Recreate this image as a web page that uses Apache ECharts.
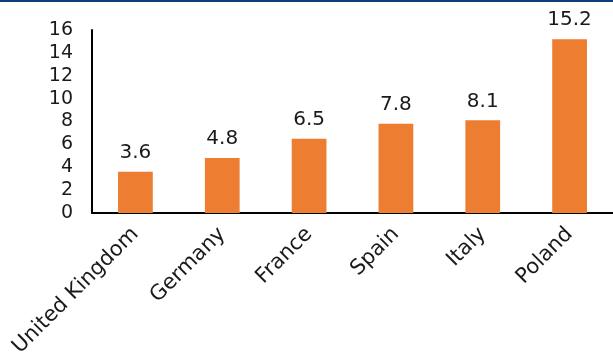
<!DOCTYPE html>
<html>
<head>
<meta charset="utf-8">
<script src="https://cdn.jsdelivr.net/npm/echarts@6/dist/echarts.min.js"></script>
<style>
  html, body { margin: 0; padding: 0; background: #fff; }
  #chart { width: 613px; height: 357px; }
</style>
</head>
<body>
<div id="chart"></div>
<script>
// Countries and their values
const countries = ['United Kingdom', 'Germany', 'France', 'Spain', 'Italy', 'Poland'];
const values = [3.6, 4.8, 6.5, 7.8, 8.1, 15.2];
const yTicks = [0, 2, 4, 6, 8, 10, 12, 14, 16];

const font = '"DejaVu Sans", sans-serif';
const chart = echarts.init(document.getElementById('chart'));

chart.setOption({
  animation: false,
  graphic: [{
    type: 'rect',
    shape: { x: 0, y: 0, width: 613, height: 2 },
    style: { fill: '#0b3f7c' },
    silent: true
  }],
  grid: { left: 92, right: 0, top: 30, bottom: 144, containLabel: false, outerBoundsMode: 'none' },
  xAxis: {
    type: 'category',
    data: countries,
    axisLine: { lineStyle: { color: '#000', width: 2 } },
    axisTick: { show: false },
    axisLabel: {
      rotate: 45,
      margin: 18,
      interval: 0,
      fontFamily: font,
      fontSize: 21,
      color: '#1a1a1a'
    }
  },
  yAxis: {
    type: 'value',
    min: yTicks[0],
    max: yTicks[yTicks.length - 1],
    interval: 2,
    splitLine: { show: false },
    axisLine: { show: true, lineStyle: { color: '#000', width: 2 } },
    axisTick: { show: false },
    axisLabel: {
      margin: 19,
      fontFamily: font,
      fontSize: 19,
      color: '#1a1a1a'
    }
  },
  series: [{
    type: 'bar',
    data: values,
    barWidth: '40%',
    itemStyle: { color: '#ED7D31' },
    label: {
      show: true,
      position: 'top',
      distance: 9,
      fontFamily: font,
      fontSize: 20,
      color: '#1a1a1a',
      formatter: p => p.value.toFixed(1)
    }
  }]
});
</script>
</body>
</html>
